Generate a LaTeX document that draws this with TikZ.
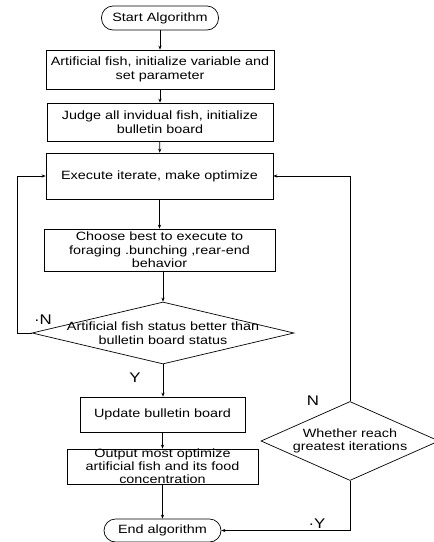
\documentclass[tikz,border=0pt]{standalone}
\usepackage{fontspec}
\setmainfont{Liberation Sans}[FakeStretch=1.2]
\usetikzlibrary{shapes.geometric,arrows.meta}
\begin{document}
\begin{tikzpicture}[x=1pt,y=-1pt,
  every node/.style={font=\fontsize{12}{13.5}\selectfont, inner sep=0pt},
  box/.style={draw, line width=0.7pt, align=center},
  term/.style={draw, line width=0.7pt, rounded corners=11.5pt},
  dia/.style={draw, line width=0.7pt, diamond},
  lab/.style={font=\fontsize{14}{14}\selectfont},
  conn/.style={line width=0.7pt, -{Stealth[length=4pt,width=3.2pt]}},
  plain/.style={line width=0.7pt}]
\useasboundingbox (0,0) rectangle (434,542);
\node[term, minimum width=117pt, minimum height=24pt] (start) at (160,18) {Start Algorithm};
\node[box, minimum width=228pt, minimum height=39pt] (b1) at (160,69.5) {Artificial fish, initialize variable and\\set parameter};
\node[box, minimum width=226pt, minimum height=38pt] (b2) at (160,122) {Judge all invidual fish, initialize\\bulletin board};
\node[box, minimum width=227pt, minimum height=46pt] (b3) at (159.5,176) {Execute iterate, make optimize};
\node[box, minimum width=231pt, minimum height=42pt] (b4) at (159.5,250) {Choose best to execute to\\foraging .bunching ,rear-end\\behavior};
\node[dia, minimum width=262pt, minimum height=62pt] (d1) at (163,333) {};
\node[align=center] (d1t) at (163,333) {Artificial fish status better than\\bulletin board status};
\node[box, minimum width=165pt, minimum height=35pt] (b5) at (162.5,414.5) {Update bulletin board};
\node[draw, line width=0.7pt, minimum width=191pt, minimum height=35pt] (b6) at (162.5,466.5) {};
\node[align=center, font=\fontsize{12}{13}\selectfont] (b6t) at (162.5,466.5) {Output most optimize\\artificial fish and its food\\concentration};
\node[term, minimum width=117pt, minimum height=23pt] (end) at (162.5,530.5) {End algorithm};
\node[dia, minimum width=178pt, minimum height=79pt] (d2) at (350,441) {};
\node[align=center] (d2t) at (350,441) {Whether reach\\greatest iterations};
\node[lab] (ln1) at (43,320) {·N};
\node[lab] (ly1) at (135,378) {Y};
\node[lab] (ln2) at (313,401) {N};
\node[lab] (ly2) at (317,524) {·Y};
\coordinate (cl) at (17,333);
\coordinate (cr) at (350,176);
\coordinate (ce) at (350,530.5);
\draw[conn] (start) -- (b1);
\draw[conn] (b1) -- (b2);
\draw[conn] (b2) -- (b3);
\draw[conn] (b3.south) -- (b3.south |- b4.north);
\draw[conn] (b4.south -| d1.north) -- (d1.north);
\draw[conn] (d1.south) -- (b5.north -| d1.south);
\draw[conn] (b5) -- (b6);
\draw[conn] (b6) -- (end);
\draw[conn] (d1.west) -- (cl) |- (b3.west);
\draw[conn] (d2.north) -- (cr) -- (b3.east);
\draw[conn] (d2.south) -- (ce) -- (end.east);
\end{tikzpicture}
\end{document}
